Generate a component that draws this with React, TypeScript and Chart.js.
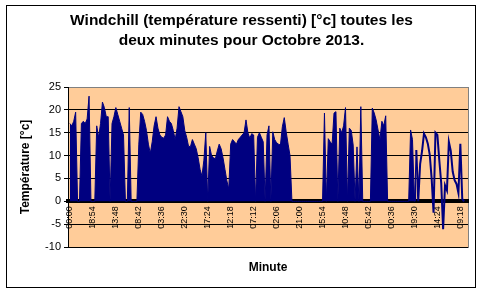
import React, { useEffect, useRef } from 'react';
import { Chart, registerables } from 'chart.js';

Chart.register(...registerables);

const FONT = "'Liberation Sans', Arial, sans-serif";

const titleLines = ['Windchill (température ressenti) [°c] toutes les', 'deux minutes pour Octobre 2013.'];
const yTitle = 'Température [°c]';
const xTitle = 'Minute';

// x tick labels (one every 567 readings of 2 minutes)
const tickLabels = ['00:00', '18:54', '13:48', '08:42', '03:36', '22:30', '17:24', '12:18', '07:12', '02:06', '21:00', '15:54', '10:48', '05:42', '00:36', '19:30', '14:24', '09:18'];
const pointsPerLabel = 12;
const xMin = -1;
const xMax = 208;

// dense (filled) part of the windchill series, °C
const denseValues = [
  17, 16.5, 17.5, 19.5, 0, 0, 17, 17.5, 17, 18,
  23, 0, 0, 0, 16.5, 14, 17, 21.7, 20.5, 18.5,
  18.5, 0, 17, 18.5, 20.5, 19, 17.5, 16, 14.5, 0,
  0, 20.5, 0, 0, 0, 0, 12.5, 19.5, 19, 17.5,
  15.5, 12.5, 10.5, 13, 16.5, 18.5, 16, 14.5, 14, 13.8,
  14.5, 18.5, 17.5, 17, 15.5, 13.5, 16, 20.7, 19.6, 18.5,
  15.5, 14, 12, 12, 13.5, 12.5, 11.5, 9.5, 7, 5.5,
  9, 15, 0, 12, 10, 9.5, 9.3, 11, 12.5, 11.5,
  9.5, 7, 4.5, 2.7, 12.5, 13.5, 13, 12.5, 13.5, 14,
  14.5, 15, 17.8, 15, 13.8, 14.8, 14.5, 0, 14, 15,
  14, 13, 0, 14.5, 16.5, 0, 15.2, 13.5, 12.8, 12.5,
  12.3, 16.3, 18.3, 15.2, 12.5, 10, 0, 0, 0, 0,
  0, 0, 0, 0, 0, 0, 0, 0, 0, 0,
  0, 0, 0, 19.3, 0, 13.7, 13, 12.5, 19.3, 19.6,
  0, 16, 15, 16.5, 20.5, 0, 16, 15.5, 12.3, 0,
  11.9, 0, 20.7, 0, 0, 0, 0, 0, 20.4, 19.3,
  17.8, 15.6, 13.5, 17.5, 16.5, 18.7, 0, 0, 0, 0,
  0, 0, 0, 0, 0, 0, 0, 0, 15.6, 13.5,
  0, 11.2,
];

// sparse (line) part, starting at reading index 181
const sparseStart = 181;
const sparseValues = [
  11.2, 0, 8.2, 11, 14.8, 14, 12.6, 10.2, 5, -2.5,
  15, 14.5, 9, 4, -6.1, 3.5, 2.4, 13, 11, 6.5,
  4.6, 3.8, 1.8, 12.6, 0.5, 0,
];

const NAVY = '#000080';
const PEACH = '#FFCC99';

const framePlugin = {
  id: 'frame',
  beforeDraw(chart: any) {
    const { ctx, chartArea: a } = chart;
    ctx.save();
    ctx.fillStyle = '#ffffff';
    ctx.fillRect(0, 0, chart.width, chart.height);
    ctx.fillStyle = PEACH;
    ctx.fillRect(a.left, a.top, a.right - a.left, a.bottom - a.top);
    ctx.strokeStyle = '#808080';
    ctx.lineWidth = 1;
    ctx.strokeRect(Math.round(a.left) + 0.5, Math.round(a.top) + 0.5, Math.round(a.right - a.left), Math.round(a.bottom - a.top));
    ctx.restore();
  },
  afterDraw(chart: any) {
    const { ctx } = chart;
    ctx.save();
    ctx.strokeStyle = '#000000';
    ctx.lineWidth = 1;
    ctx.strokeRect(6.5, 5.5, 469, 282);
    ctx.restore();
  },
};

export default function App() {
  const ref = useRef<HTMLCanvasElement | null>(null);

  useEffect(() => {
    document.body.style.margin = '0';
    if (!ref.current) return;
    Chart.defaults.font.family = FONT;

    const chart = new Chart(ref.current, {
      type: 'line',
      data: {
        datasets: [
          {
            data: denseValues.map((y, i) => ({ x: i, y })),
            borderColor: NAVY,
            backgroundColor: NAVY,
            borderWidth: 1,
            fill: 'origin',
            pointRadius: 0,
            tension: 0,
          },
          {
            data: sparseValues.map((y, i) => ({ x: sparseStart + i, y })),
            borderColor: NAVY,
            backgroundColor: NAVY,
            borderWidth: 2,
            fill: false,
            pointRadius: 0,
            tension: 0,
            borderJoinStyle: 'miter',
          },
        ],
      },
      options: {
        animation: false,
        responsive: false,
        devicePixelRatio: 1,
        layout: { padding: { left: 15, right: 15, top: 0, bottom: 0 } },
        plugins: {
          legend: { display: false },
          tooltip: { enabled: false },
          title: {
            display: true,
            text: titleLines,
            color: '#000',
            font: { size: 15.5, weight: 'bold', lineHeight: '20px', family: FONT },
            padding: { top: 10.5, bottom: 36.5 },
          },
        },
        scales: {
          x: {
            type: 'linear',
            axis: 'x',
            position: { y: 0 },
            min: xMin,
            max: xMax,
            afterBuildTicks: (scale: any) => {
              scale.ticks = tickLabels.map((_, k) => ({ value: k * pointsPerLabel }));
            },
            ticks: {
              autoSkip: false,
              minRotation: 90,
              maxRotation: 90,
              padding: 5,
              color: '#000',
              font: { size: 9, family: FONT },
              callback: (v: any) => tickLabels[Math.round(Number(v) / pointsPerLabel)] ?? '',
            },
            grid: { display: false, drawTicks: false },
            border: { display: true, color: '#000', width: 4 },
          },
          x2: {
            type: 'linear',
            axis: 'x',
            position: 'bottom',
            min: xMin,
            max: xMax,
            ticks: { display: false },
            grid: { display: false, drawTicks: false },
            border: { display: false },
            title: {
              display: true,
              text: xTitle,
              color: '#000',
              font: { size: 12, weight: 'bold', family: FONT },
              padding: { top: 0, bottom: 21 },
            },
            afterFit: (s: any) => { s.height = 49; },
          },
          y: {
            position: 'left',
            min: -10,
            max: 25,
            ticks: { stepSize: 5, color: '#000', font: { size: 11, family: FONT }, padding: 3 },
            grid: {
              color: (c: any) => (c.tick && c.tick.value === 25 ? '#808080' : '#000'),
              tickColor: '#000',
              tickLength: 4,
              lineWidth: 1,
            },
            border: { display: true, color: '#000', width: 1 },
            title: {
              display: true,
              text: yTitle,
              color: '#000',
              font: { size: 12, weight: 'bold', family: FONT },
              padding: { top: 3, bottom: 4 },
            },
            afterFit: (s: any) => { s.width = 53; },
          },
        },
      } as any,
      plugins: [framePlugin],
    });
    return () => chart.destroy();
  }, []);

  return (
    <div style={{ width: 483, height: 296, position: 'relative' }}>
      <canvas ref={ref} width={483} height={296} style={{ display: 'block' }} />
    </div>
  );
}
